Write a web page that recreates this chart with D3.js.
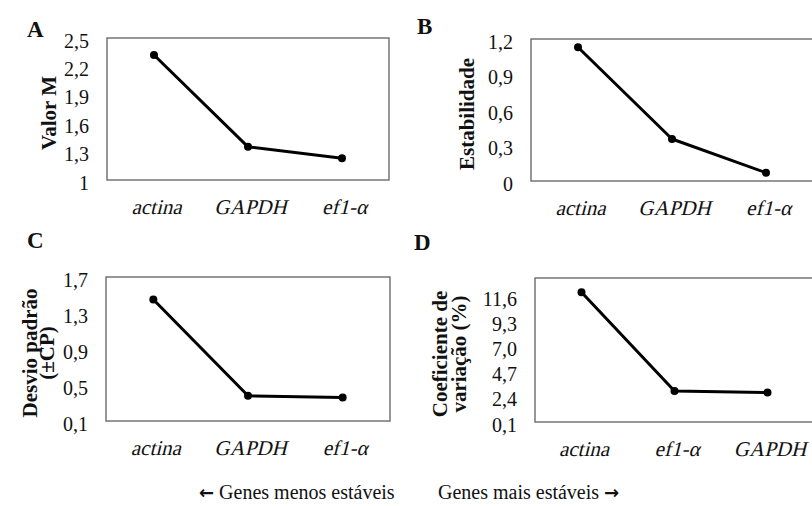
<!DOCTYPE html>
<html>
<head>
<meta charset="utf-8">
<script src="https://cdn.jsdelivr.net/npm/d3@7"></script>
<style>
  body { margin: 0; background: #fff; }
  svg { display: block; font-family: "Liberation Serif", "Times New Roman", serif; }
  .tick-label { font-size: 20px; fill: #111; }
  .cat-label { font-family: "Liberation Serif", "Times New Roman", serif; font-size: 21px; font-style: normal; fill: #111; }
  .y-title { font-size: 21px; font-weight: bold; fill: #111; }
  .letter { font-size: 23px; font-weight: bold; fill: #111; }
  .footer { font-size: 20px; fill: #111; }
  .arrow { font-family: "DejaVu Sans", sans-serif; font-weight: bold; font-size: 18px; }
</style>
</head>
<body>
<div id="chart"></div>
<script>
// categories (panel D is in a different order)
const catsABC = ['actina', 'GAPDH', 'ef1-α'];
const catsD = ['actina', 'ef1-α', 'GAPDH'];

// values
const valuesA = [2.32, 1.35, 1.23];   // Valor M
const valuesB = [1.13, 0.355, 0.07];  // Estabilidade
const valuesC = [1.45, 0.38, 0.36];   // Desvio padrão
const valuesD = [12.0, 2.95, 2.8];    // Coeficiente de variação

// axis ticks and their labels
const ticksA = [1, 1.3, 1.6, 1.9, 2.2, 2.5];
const tickLabelsA = ['1', '1,3', '1,6', '1,9', '2,2', '2,5'];
const ticksB = [0, 0.3, 0.6, 0.9, 1.2];
const tickLabelsB = ['0', '0,3', '0,6', '0,9', '1,2'];
const ticksC = [0.1, 0.5, 0.9, 1.3, 1.7];
const tickLabelsC = ['0,1', '0,5', '0,9', '1,3', '1,7'];
const ticksD = [0.1, 2.4, 4.7, 7.0, 9.3, 11.6];
const tickLabelsD = ['0,1', '2,4', '4,7', '7,0', '9,3', '11,6'];

const titlesA = ['Valor M'];
const titlesB = ['Estabilidade'];
const titlesC = ['Desvio padrão', '(±CP)'];
const titlesD = ['Coeficiente de', 'variação (%)'];

const footerLeft = ['←', ' Genes menos estáveis'];
const footerRight = ['Genes mais estáveis ', '→'];

const panels = [
  { letter: 'A', cats: catsABC, values: valuesA, ticks: ticksA, labels: tickLabelsA, titles: titlesA,
    domain: [1, 2.5], box: { x: 107, y: 38, w: 282, h: 142 }, letterPos: [27, 37], titleX: [49] },
  { letter: 'B', cats: catsABC, values: valuesB, ticks: ticksB, labels: tickLabelsB, titles: titlesB,
    domain: [0, 1.2], box: { x: 531, y: 39, w: 282, h: 142 }, letterPos: [417, 34], titleX: [467] },
  { letter: 'C', cats: catsABC, values: valuesC, ticks: ticksC, labels: tickLabelsC, titles: titlesC,
    domain: [0.1, 1.7], box: { x: 106, y: 277, w: 284, h: 144 }, letterPos: [27, 248], titleX: [30, 47] },
  { letter: 'D', cats: catsD, values: valuesD, ticks: ticksD, labels: tickLabelsD, titles: titlesD,
    domain: [0.1, 13.3], box: { x: 535, y: 278, w: 279, h: 144 }, letterPos: [414, 250], titleX: [440, 459] }
];

const width = 812, height = 506;
const svg = d3.select('#chart').append('svg')
  .attr('width', width)
  .attr('height', height);

panels.forEach(p => {
  const b = p.box;
  const x = d3.scalePoint().domain(p.cats).range([b.x, b.x + b.w]).padding(0.5);
  const y = d3.scaleLinear().domain(p.domain).range([b.y + b.h, b.y]);
  const g = svg.append('g');

  g.append('rect')
    .attr('x', b.x).attr('y', b.y)
    .attr('width', b.w).attr('height', b.h)
    .attr('fill', 'none')
    .attr('stroke', '#6b6b6b')
    .attr('stroke-width', 1.4);

  // y tick labels (no tick marks in the original)
  const yAxis = d3.axisLeft(y)
    .tickValues(p.ticks)
    .tickSize(0)
    .tickPadding(0)
    .tickFormat((d, i) => p.labels[i]);
  const ya = g.append('g')
    .attr('transform', `translate(${b.x - 18},0)`)
    .call(yAxis);
  ya.select('.domain').remove();
  ya.attr('font-family', null).attr('font-size', null);
  ya.selectAll('text')
    .attr('class', 'tick-label')
    .attr('dy', '0.45em');

  // category labels, slanted by hand (serif italic face is not available)
  const xAxis = d3.axisBottom(x).tickSize(0).tickPadding(0);
  const xa = g.append('g')
    .attr('transform', `translate(0,${b.y + b.h + 34})`)
    .call(xAxis);
  xa.select('.domain').remove();
  xa.attr('font-family', null).attr('font-size', null);
  xa.selectAll('text')
    .attr('class', 'cat-label')
    .attr('y', 0)
    .attr('dy', 0)
    .attr('transform', 'translate(2,0) skewX(-14)');

  // line + markers
  const line = d3.line()
    .x((d, i) => x(p.cats[i]))
    .y(d => y(d));
  g.append('path')
    .datum(p.values)
    .attr('d', line)
    .attr('fill', 'none')
    .attr('stroke', '#000')
    .attr('stroke-width', 3)
    .attr('stroke-linejoin', 'round');
  g.selectAll('circle')
    .data(p.values)
    .join('circle')
    .attr('cx', (d, i) => x(p.cats[i]))
    .attr('cy', d => y(d))
    .attr('r', 4)
    .attr('fill', '#000');

  // y title (one or two lines)
  const cy = b.y + b.h / 2 + 4;
  p.titles.forEach((t, i) => {
    g.append('text')
      .attr('class', 'y-title')
      .attr('transform', `translate(${p.titleX[i]},${cy}) rotate(-90)`)
      .attr('text-anchor', 'middle')
      .attr('dy', '0.35em')
      .text(t);
  });

  // panel letter
  g.append('text')
    .attr('class', 'letter')
    .attr('x', p.letterPos[0])
    .attr('y', p.letterPos[1])
    .text(p.letter);
});

const fl = svg.append('text')
  .attr('class', 'footer')
  .attr('x', 199).attr('y', 499);
fl.append('tspan').attr('class', 'arrow').text(footerLeft[0]);
fl.append('tspan').text(footerLeft[1]);

const fr = svg.append('text')
  .attr('class', 'footer')
  .attr('x', 438).attr('y', 499);
fr.append('tspan').text(footerRight[0]);
fr.append('tspan').attr('class', 'arrow').text(footerRight[1]);
</script>
</body>
</html>
